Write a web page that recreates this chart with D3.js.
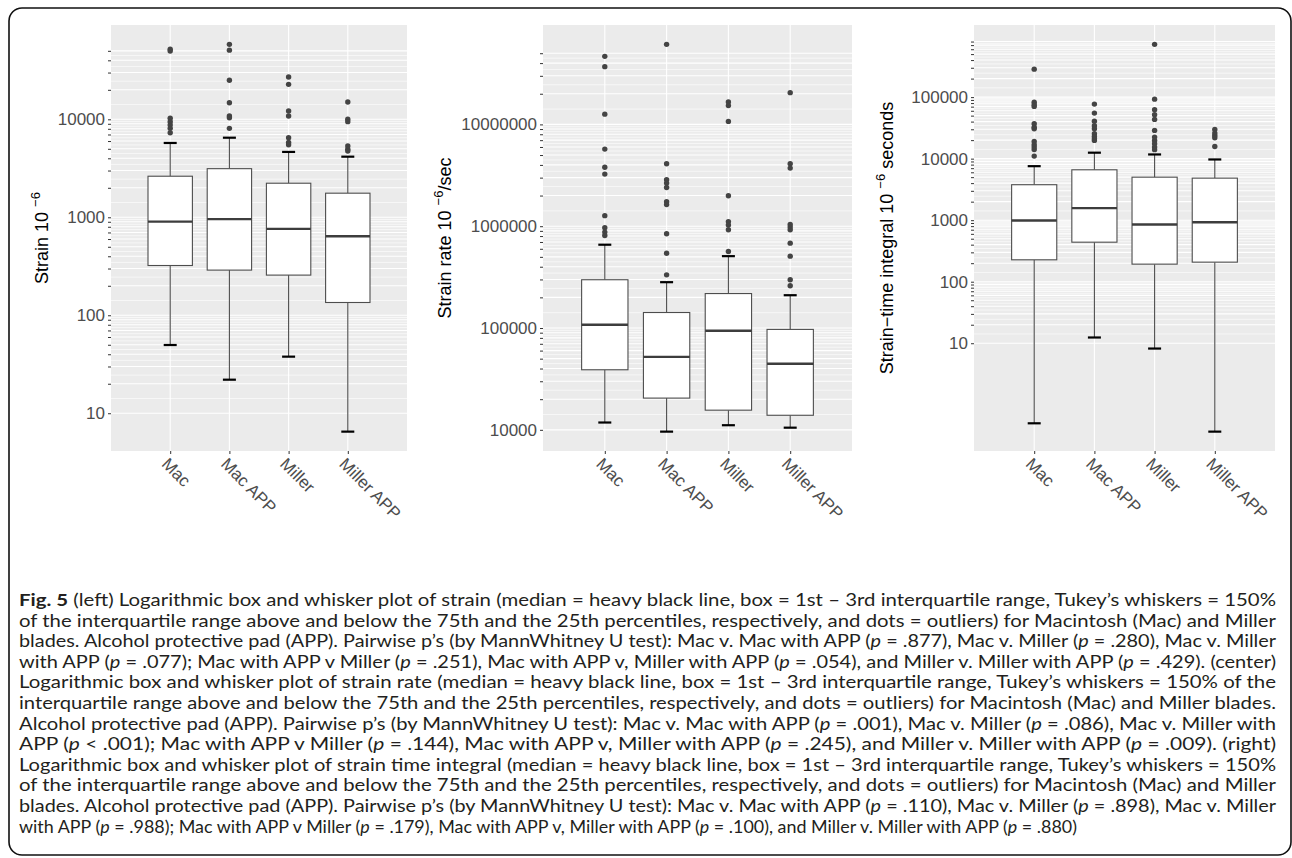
<!DOCTYPE html>
<html><head><meta charset="utf-8">
<script src="https://cdnjs.cloudflare.com/ajax/libs/d3/7.8.5/d3.min.js"></script>
<style>body{margin:0;background:#fff} svg{display:block} text{white-space:pre}</style>
</head><body>
<svg id="c" width="1292" height="858"></svg>
<script>
// ---------------- DATA ----------------
const categories = ["Mac", "Mac APP", "Miller", "Miller APP"];

// Panel 1: strain (10^-6)
const strainQ1 = [322, 289, 257, 135];
const strainMedian = [904, 957, 762, 641];
const strainQ3 = [2625, 3135, 2227, 1762];
const strainWhiskerLow = [49.7, 22, 37.8, 6.49];
const strainWhiskerHigh = [5735, 6490, 4645, 4155];
const strainOutliers = [
  [51800, 49700, 10240, 9450, 8750, 8090, 7300],
  [58200, 50800, 25000, 14760, 10800, 10380, 8090],
  [27000, 22750, 12150, 10800, 6490, 5800, 5500],
  [15000, 10000, 9460, 5350, 4940, 4750]
];
const strainBreakRange = [10, 50000];
const strainTickLabels = ["10", "100", "1000", "10000"];

// Panel 2: strain rate (10^-6/sec)
const rateQ1 = [38900, 20500, 15600, 13900];
const rateMedian = [107700, 52100, 94000, 44500];
const rateQ3 = [298000, 142000, 218000, 96900];
const rateWhiskerLow = [11800, 9600, 11100, 10500];
const rateWhiskerHigh = [658000, 282000, 508000, 210000];
const rateOutliers = [
  [46600000, 36900000, 12600000, 5720000, 3800000, 3250000, 1270000, 966000, 875000, 811000],
  [61100000, 4110000, 2860000, 2650000, 2400000, 1740000, 1630000, 843000, 543000, 333000],
  [16600000, 15300000, 10700000, 1990000, 1110000, 1030000, 922000, 565000],
  [20500000, 4110000, 3720000, 1040000, 980000, 922000, 682000, 508000, 298000, 260000]
];
const rateBreakRange = [10000, 50000000];
const rateTickLabels = ["10000", "100000", "1000000", "10000000"];

// Panel 3: strain-time integral (10^-6 seconds)
const stiQ1 = [227, 439, 193, 208];
const stiMedian = [989, 1570, 851, 927];
const stiQ3 = [3770, 6590, 5000, 4820];
const stiWhiskerLow = [0.50, 12.4, 8.2, 0.366];
const stiWhiskerHigh = [7550, 12500, 11700, 9700];
const stiOutliers = [
  [285000, 82900, 75200, 70600, 36900, 32500, 30600, 19000, 16800, 15400, 14100, 11000],
  [77000, 55000, 40700, 34300, 30600, 25400, 23000, 21100, 19800],
  [720000, 92700, 62400, 51700, 43400, 28800, 22400, 19800, 17500, 15400, 14000],
  [29900, 26000, 23800, 21900, 15800]
];
const stiBreakRange = [10, 800000];
const stiTickLabels = ["10", "100", "1000", "10000", "100000"];

const captionLines = [
  "**Fig. 5** (left) Logarithmic box and whisker plot of strain (median = heavy black line, box = 1st – 3rd interquartile range, Tukey’s whiskers = 150%",
  "of the interquartile range above and below the 75th and the 25th percentiles, respectively, and dots = outliers) for Macintosh (Mac) and Miller",
  "blades. Alcohol protective pad (APP). Pairwise p’s (by MannWhitney U test): Mac v. Mac with APP (_p_ = .877), Mac v. Miller (_p_ = .280), Mac v. Miller",
  "with APP (_p_ = .077); Mac with APP v Miller (_p_ = .251), Mac with APP v, Miller with APP (_p_ = .054), and Miller v. Miller with APP (_p_ = .429). (center)",
  "Logarithmic box and whisker plot of strain rate (median = heavy black line, box = 1st – 3rd interquartile range, Tukey’s whiskers = 150% of the",
  "interquartile range above and below the 75th and the 25th percentiles, respectively, and dots = outliers) for Macintosh (Mac) and Miller blades.",
  "Alcohol protective pad (APP). Pairwise p’s (by MannWhitney U test): Mac v. Mac with APP (_p_ = .001), Mac v. Miller (_p_ = .086), Mac v. Miller with",
  "APP (_p_ < .001); Mac with APP v Miller (_p_ = .144), Mac with APP v, Miller with APP (_p_ = .245), and Miller v. Miller with APP (_p_ = .009). (right)",
  "Logarithmic box and whisker plot of strain time integral (median = heavy black line, box = 1st – 3rd interquartile range, Tukey’s whiskers = 150%",
  "of the interquartile range above and below the 75th and the 25th percentiles, respectively, and dots = outliers) for Macintosh (Mac) and Miller",
  "blades. Alcohol protective pad (APP). Pairwise p’s (by MannWhitney U test): Mac v. Mac with APP (_p_ = .110), Mac v. Miller (_p_ = .898), Mac v. Miller",
  "with APP (_p_ = .988); Mac with APP v Miller (_p_ = .179), Mac with APP v, Miller with APP (_p_ = .100), and Miller v. Miller with APP (_p_ = .880)"
];

// ---------------- LAYOUT ----------------
const svg = d3.select("#c");
const plotTop = 25, plotBottom = 451;
const FONT = "'Liberation Sans', Arial, Helvetica, sans-serif";

svg.append("rect").attr("x", 9).attr("y", 8).attr("width", 1282).attr("height", 847)
  .attr("rx", 13).attr("fill", "none").attr("stroke", "#111").attr("stroke-width", 1.6);

const panels = [
  { x0: 111, x1: 407, titleX: 48, title: ["Strain 10", "−6", ""],
    q1: strainQ1, med: strainMedian, q3: strainQ3, wl: strainWhiskerLow, wh: strainWhiskerHigh,
    out: strainOutliers, breakRange: strainBreakRange, labels: strainTickLabels },
  { x0: 543, x1: 852, titleX: 451, title: ["Strain rate 10", "−6", "/sec"],
    q1: rateQ1, med: rateMedian, q3: rateQ3, wl: rateWhiskerLow, wh: rateWhiskerHigh,
    out: rateOutliers, breakRange: rateBreakRange, labels: rateTickLabels },
  { x0: 974, x1: 1275, titleX: 893, title: ["Strain−time integral 10", "−6", " seconds"],
    q1: stiQ1, med: stiMedian, q3: stiQ3, wl: stiWhiskerLow, wh: stiWhiskerHigh,
    out: stiOutliers, breakRange: stiBreakRange, labels: stiTickLabels }
];

panels.forEach(p => {
  const g = svg.append("g");
  const all = [].concat(p.wl, p.wh, ...p.out);
  const lo = Math.log10(d3.min(all)), hi = Math.log10(d3.max(all));
  const pad = (hi - lo) * 0.05;
  const y = d3.scaleLog().domain([Math.pow(10, lo - pad), Math.pow(10, hi + pad)])
    .range([plotBottom, plotTop]);
  const x = d3.scalePoint().domain(categories).range([p.x0, p.x1]).padding(1);
  const step = x.step();

  g.append("rect").attr("x", p.x0).attr("y", plotTop).attr("width", p.x1 - p.x0)
    .attr("height", plotBottom - plotTop).attr("fill", "#ebebeb");

  const majors = d3.scaleLog().domain(p.breakRange).ticks()
    .filter(v => v >= p.breakRange[0] * 0.999 && v <= p.breakRange[1] * 1.001);
  const bl = majors.map(v => Math.log10(v));
  const minorVals = [];
  for (let i = 0; i < bl.length - 1; i++) minorVals.push(Math.pow(10, (bl[i] + bl[i + 1]) / 2));

  g.selectAll(".ming").data(minorVals).join("line")
    .attr("x1", p.x0).attr("x2", p.x1).attr("y1", d => y(d)).attr("y2", d => y(d))
    .attr("stroke", "#fff").attr("stroke-width", 0.6);
  g.selectAll(".majg").data(majors).join("line")
    .attr("x1", p.x0).attr("x2", p.x1).attr("y1", d => y(d)).attr("y2", d => y(d))
    .attr("stroke", "#fff").attr("stroke-width", 1.1);
  g.selectAll(".vg").data(categories).join("line")
    .attr("x1", d => x(d)).attr("x2", d => x(d)).attr("y1", plotTop).attr("y2", plotBottom)
    .attr("stroke", "#fff").attr("stroke-width", 1.1);

  const powers = majors.filter(v => Math.abs(Math.log10(v) - Math.round(Math.log10(v))) < 1e-9);
  const labelMap = new Map(powers.map((v, i) => [v, p.labels[i] || ""]));
  const ya = g.append("g").attr("transform", `translate(${p.x0},0)`)
    .call(d3.axisLeft(y).tickValues(majors).tickFormat(v => labelMap.get(v) || "")
      .tickSize(3).tickPadding(3).tickSizeOuter(0));
  ya.select(".domain").remove();
  ya.selectAll(".tick line").attr("stroke", "#333").attr("stroke-width", 1);
  ya.selectAll(".tick text").attr("fill", "#4d4d4d").attr("font-size", 17).attr("font-family", FONT);

  const xa = g.append("g").attr("transform", `translate(0,${plotBottom})`)
    .call(d3.axisBottom(x).tickSize(3).tickSizeOuter(0));
  xa.select(".domain").remove();
  xa.selectAll(".tick line").attr("stroke", "#333").attr("stroke-width", 1);
  xa.selectAll(".tick text").attr("fill", "#4d4d4d").attr("font-size", 17).attr("font-family", FONT)
    .attr("x", 0).attr("y", 0).attr("dy", 0).attr("text-anchor", "start")
    .attr("transform", "translate(-10,14) rotate(45)");

  const bw = step * 0.75, cw = 13;
  categories.forEach((c, i) => {
    const cx = x(c);
    g.append("line").attr("x1", cx).attr("x2", cx).attr("y1", y(p.wh[i])).attr("y2", y(p.q3[i]))
      .attr("stroke", "#4d4d4d").attr("stroke-width", 1.1);
    g.append("line").attr("x1", cx).attr("x2", cx).attr("y1", y(p.q1[i])).attr("y2", y(p.wl[i]))
      .attr("stroke", "#4d4d4d").attr("stroke-width", 1.1);
    [p.wh[i], p.wl[i]].forEach(v => {
      g.append("line").attr("x1", cx - cw / 2).attr("x2", cx + cw / 2).attr("y1", y(v)).attr("y2", y(v))
        .attr("stroke", "#000").attr("stroke-width", 2.2);
    });
    g.append("rect").attr("x", cx - bw / 2).attr("width", bw)
      .attr("y", y(p.q3[i])).attr("height", y(p.q1[i]) - y(p.q3[i]))
      .attr("fill", "#fff").attr("stroke", "#4d4d4d").attr("stroke-width", 1.1);
    g.append("line").attr("x1", cx - bw / 2).attr("x2", cx + bw / 2)
      .attr("y1", y(p.med[i])).attr("y2", y(p.med[i]))
      .attr("stroke", "#3d3d3d").attr("stroke-width", 2.4);
    g.selectAll(null).data(p.out[i]).join("circle")
      .attr("cx", cx).attr("cy", d => y(d)).attr("r", 2.7).attr("fill", "#444");
  });

  const t = svg.append("text")
    .attr("transform", `translate(${p.titleX},${(plotTop + plotBottom) / 2}) rotate(-90)`)
    .attr("text-anchor", "middle").attr("font-family", FONT).attr("font-size", 18).attr("fill", "#000");
  t.append("tspan").text(p.title[0]);
  t.append("tspan").attr("dx", 5).attr("dy", -8).attr("font-size", 13).text(p.title[1]);
  t.append("tspan").attr("dy", 8).text(p.title[2]);
});

// ---------------- CAPTION ----------------
const capX = 19, capY0 = 606, capDY = 20.6, capW = 1257, capLastW = 1058;
captionLines.forEach((line, i) => {
  const t = svg.append("text").attr("x", capX).attr("y", capY0 + i * capDY)
    .attr("font-family", "Lato, 'Open Sans', sans-serif").attr("font-size", 17).attr("fill", "#231f20")
    .attr("textLength", i === captionLines.length - 1 ? capLastW : capW)
    .attr("lengthAdjust", "spacingAndGlyphs");
  line.split(/(\*\*[^*]+\*\*|_[^_]+_)/).filter(s => s.length).forEach(s => {
    if (s.startsWith("**")) t.append("tspan").attr("font-weight", "bold").text(s.slice(2, -2));
    else if (s.startsWith("_") && s.endsWith("_") && s.length > 2) t.append("tspan").attr("font-style", "italic").text(s.slice(1, -1));
    else t.append("tspan").text(s);
  });
});
</script>
</body></html>
